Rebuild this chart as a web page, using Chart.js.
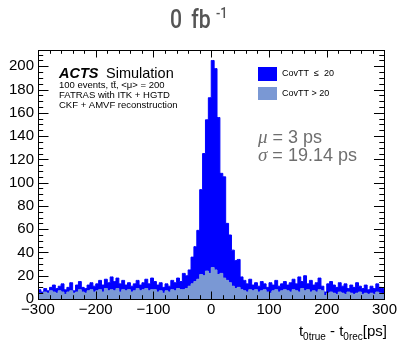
<!DOCTYPE html>
<html>
<head>
<meta charset="utf-8">
<script src="https://cdn.jsdelivr.net/npm/chart.js@4/dist/chart.umd.min.js"></script>
<style>
    html, body { margin: 0; padding: 0; background: #ffffff; }
    #wrap { width: 399px; height: 344px; }
</style>
</head>
<body>
<div id="wrap"><canvas id="chart" width="399" height="344"></canvas></div>
<script>
    "use strict";

    // histogram binning (ps)
    var binLow = -300;
    var binWidth = 5;

    // CovTT <= 20 (blue, stacked on top)
    var lowCovCounts = [
        3, 2, 3, 2, 3, 6, 4, 4, 7, 4,
        4, 7, 2, 6, 7, 4, 4, 5, 6, 5,
        6, 8, 6, 8, 7, 11, 8, 9, 7, 8,
        5, 6, 5, 6, 7, 5, 6, 8, 6, 10,
        7, 6, 7, 5, 6, 5, 8, 7, 9, 7,
        14, 11, 14, 23, 30, 42, 73, 105, 130, 151,
        178, 173, 135, 86, 87, 49, 41, 31, 24, 24,
        11, 9, 7, 9, 5, 6, 5, 8, 5, 4,
        9, 5, 8, 5, 6, 7, 5, 8, 9, 6,
        13, 6, 13, 5, 10, 5, 8, 10, 4, 3,
        8, 9, 7, 6, 8, 6, 9, 3, 7, 6,
        9, 5, 5, 7, 4, 6, 5, 7, 5, 5
    ];

    // CovTT > 20 (light blue, bottom of the stack)
    var highCovCounts = [
        5, 4, 6, 5, 7, 6, 5, 7, 6, 4,
        6, 7, 5, 6, 8, 6, 5, 7, 8, 6,
        7, 8, 6, 9, 7, 8, 7, 9, 6, 8,
        7, 8, 6, 7, 9, 7, 8, 9, 7, 8,
        8, 6, 7, 5, 7, 6, 8, 7, 9, 8,
        8, 9, 11, 13, 15, 17, 21, 20, 24, 22,
        27, 25, 21, 22, 18, 16, 14, 11, 9, 10,
        8, 7, 6, 8, 7, 8, 6, 7, 8, 6,
        5, 7, 8, 6, 7, 8, 7, 6, 8, 7,
        6, 9, 7, 8, 6, 7, 6, 8, 7, 3,
        5, 6, 5, 4, 6, 5, 4, 6, 5, 4,
        5, 6, 4, 5, 4, 5, 4, 6, 5, 4
    ];

    var xTicks = [-300, -200, -100, 0, 100, 200, 300];
    var yTicks = [0, 20, 40, 60, 80, 100, 120, 140, 160, 180, 200];

    var infoLines = [
        "100 events, t\u0074\u0304, <\u03bc> = 200",
        "FATRAS with ITK + HGTD",
        "CKF + AMVF reconstruction"
    ];

    var BLUE = "#0000ff";
    var LIGHT = "#7a98d4";
    var SANS = "'Liberation Sans', Arial, Helvetica, sans-serif";

    // bin centres, plus the two outer edges so the steps reach the frame
    function toSteps(counts) {
        var n = counts.length;
        var pts = [{ x: binLow, y: counts[0] }];
        for (var i = 0; i < n; i++) {
            pts.push({ x: binLow + binWidth * (i + 0.5), y: counts[i] });
        }
        pts.push({ x: binLow + binWidth * n, y: counts[n - 1] });
        return pts;
    }

    // ROOT style frame with inward ticks on all four sides
    var framePlugin = {
        id: "rootFrame",
        afterDatasetsDraw: function(chart) {
            var ctx = chart.ctx;
            var a = chart.chartArea;
            var xs = chart.scales.x;
            var ys = chart.scales.y;
            ctx.save();
            ctx.strokeStyle = "#000";
            ctx.lineWidth = 1;
            ctx.strokeRect(Math.round(a.left) + 0.5, Math.round(a.top) + 0.5,
                Math.round(a.right - a.left), Math.round(a.bottom - a.top));
            ctx.beginPath();
            var v, px, len;
            for (v = -300; v <= 300; v += 20) {
                px = Math.round(xs.getPixelForValue(v)) + 0.5;
                len = (v % 100 === 0) ? 7.5 : 3.8;
                ctx.moveTo(px, a.bottom);
                ctx.lineTo(px, a.bottom - len);
                ctx.moveTo(px, a.top);
                ctx.lineTo(px, a.top + len);
            }
            for (v = 0; v <= ys.max; v += 5) {
                px = Math.round(ys.getPixelForValue(v)) + 0.5;
                len = (v % 20 === 0) ? 10.5 : 5.2;
                ctx.moveTo(a.left, px);
                ctx.lineTo(a.left + len, px);
                ctx.moveTo(a.right, px);
                ctx.lineTo(a.right - len, px);
            }
            ctx.stroke();
            ctx.restore();
        },
        afterDraw: function(chart) {
            var ctx = chart.ctx;
            ctx.save();
            ctx.textBaseline = "alphabetic";
            ctx.textAlign = "left";

            // title, narrowed to look like a condensed face
            ctx.fillStyle = "#555555";
            ctx.save();
            ctx.translate(170, 28);
            ctx.scale(0.85, 1);
            ctx.font = "500 25px Roboto";
            ctx.fillText("0", 0, 0);
            ctx.fillText("fb", 25, 0);
            ctx.font = "500 15px Roboto";
            ctx.fillText("-1", 54, -10);
            ctx.restore();

            // ACTS label
            ctx.fillStyle = "#000";
            ctx.font = "italic bold 14.5px " + SANS;
            ctx.fillText("ACTS", 59, 78);
            ctx.font = "14.5px " + SANS;
            ctx.fillText("Simulation", 106, 78);
            ctx.font = "9.5px " + SANS;
            for (var i = 0; i < infoLines.length; i++) {
                ctx.fillText(infoLines[i], 59, 88 + i * 10);
            }

            // legend
            ctx.fillStyle = BLUE;
            ctx.fillRect(258, 67, 19, 14);
            ctx.fillStyle = LIGHT;
            ctx.fillRect(258, 87, 19, 13);
            ctx.fillStyle = "#000";
            ctx.font = "9px " + SANS;
            ctx.textBaseline = "middle";
            ctx.fillText("CovTT  \u2264  20", 282, 74);
            ctx.fillText("CovTT > 20", 282, 94);

            // fit results
            ctx.textBaseline = "alphabetic";
            ctx.fillStyle = "#6e6e6e";
            var fits = [["\u03bc", " = 3 ps", 143], ["\u03c3", " = 19.14 ps", 161]];
            fits.forEach(function(f) {
                ctx.font = "italic 19px 'Liberation Serif', serif";
                ctx.fillText(f[0], 258, f[2]);
                var w = ctx.measureText(f[0]).width;
                ctx.font = "18px " + SANS;
                ctx.fillText(f[1], 258 + w, f[2]);
            });

            // x axis title, right aligned
            ctx.fillStyle = "#000";
            var parts = [["t", 15, 0], ["0true", 10, 4], [" - t", 15, 0], ["0rec", 10, 4], ["[ps]", 15, 0]];
            var total = 0;
            parts.forEach(function(p) {
                ctx.font = p[1] + "px " + SANS;
                total += ctx.measureText(p[0]).width;
            });
            var x = 387 - total;
            parts.forEach(function(p) {
                ctx.font = p[1] + "px " + SANS;
                ctx.fillText(p[0], x, 336 + p[2]);
                x += ctx.measureText(p[0]).width;
            });
            ctx.restore();
        }
    };

    var chart = new Chart(document.getElementById("chart"), {
        type: "line",
        data: {
            datasets: [{
                label: "CovTT > 20",
                data: toSteps(highCovCounts),
                stepped: "middle",
                fill: "origin",
                backgroundColor: LIGHT,
                borderColor: LIGHT,
                borderWidth: 1,
                pointRadius: 0
            }, {
                label: "CovTT \u2264 20",
                data: toSteps(lowCovCounts),
                stepped: "middle",
                fill: "-1",
                backgroundColor: BLUE,
                borderColor: BLUE,
                borderWidth: 1,
                pointRadius: 0
            }]
        },
        options: {
            responsive: false,
            animation: false,
            devicePixelRatio: 1,
            layout: { padding: { top: 50, right: 12, left: 0, bottom: 0 } },
            plugins: {
                legend: { display: false },
                tooltip: { enabled: false },
                title: { display: false },
                filler: { propagate: false }
            },
            scales: {
                x: {
                    type: "linear",
                    min: -300,
                    max: 300,
                    grid: { display: false, drawTicks: false },
                    border: { display: false },
                    afterBuildTicks: function(scale) {
                        scale.ticks = xTicks.map(function(v) { return { value: v }; });
                    },
                    afterFit: function(scale) { scale.height = 45; },
                    ticks: {
                        autoSkip: false,
                        maxRotation: 0,
                        padding: 2,
                        color: "#000",
                        font: { family: SANS, size: 15 },
                        callback: function(v) { return String(v).replace("-", "\u2212"); }
                    }
                },
                y: {
                    stacked: true,
                    min: 0,
                    max: 214,
                    grid: { display: false, drawTicks: false },
                    border: { display: false },
                    afterBuildTicks: function(scale) {
                        scale.ticks = yTicks.map(function(v) { return { value: v }; });
                    },
                    afterFit: function(scale) { scale.width = 38; },
                    ticks: {
                        padding: 4,
                        color: "#000",
                        font: { family: SANS, size: 15 }
                    }
                }
            }
        },
        plugins: [framePlugin]
    });
</script>
</body>
</html>
